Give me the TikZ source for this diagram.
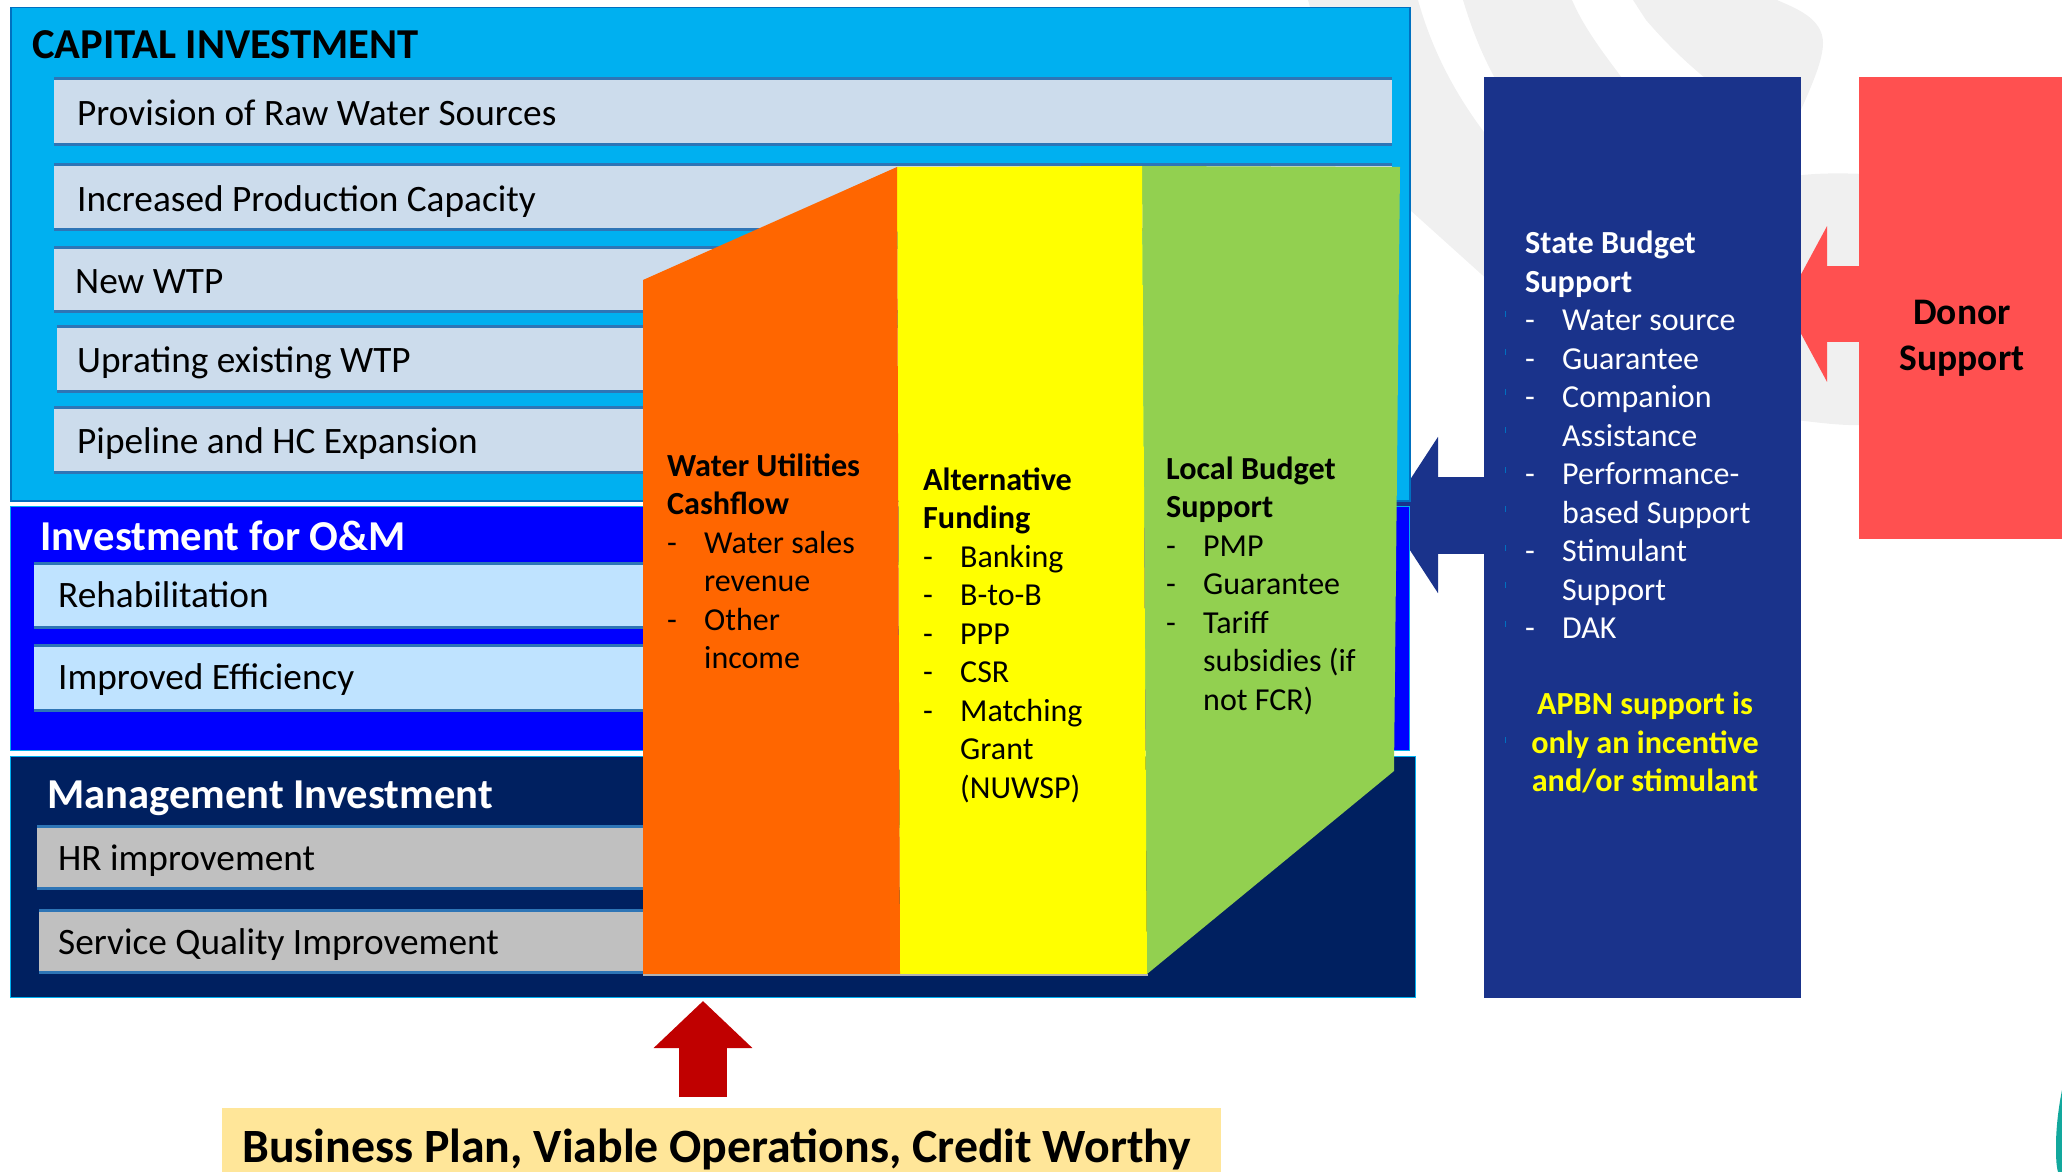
\documentclass[tikz,border=0pt]{standalone}
\usepackage{fontspec}
\setmainfont{Carlito}
\usetikzlibrary{arrows.meta,calc}
\definecolor{wmgrey}{HTML}{F0F0F0}
\definecolor{capblue}{HTML}{00B0F0}
\definecolor{capedge}{HTML}{0070C0}
\definecolor{rowpale}{HTML}{CCDCEC}
\definecolor{rowedge}{HTML}{2E75B6}
\definecolor{ompure}{HTML}{0000FF}
\definecolor{omrow}{HTML}{BFE3FF}
\definecolor{navy}{HTML}{002060}
\definecolor{greyrow}{HTML}{C0C0C0}
\definecolor{orangef}{HTML}{FF6600}
\definecolor{yellowf}{HTML}{FFFF00}
\definecolor{greenf}{HTML}{92D050}
\definecolor{statef}{HTML}{1A338B}
\definecolor{donorf}{HTML}{FF5050}
\definecolor{redarrow}{HTML}{C00000}
\definecolor{sandf}{HTML}{FFE699}
\definecolor{tealf}{HTML}{12A89D}
\newcommand{\itm}[1]{\makebox[37pt][l]{-}#1}
\newcommand{\cont}[1]{\hspace*{37pt}#1}
\newcommand{\bh}[1]{{\bfseries\fontsize{32.2}{38.5}\selectfont #1}}
\tikzset{
  panel/.style={anchor=north west,inner sep=0pt,draw=none},
  rowbox/.style={anchor=north west,inner sep=0pt,text height=27pt,text depth=0pt,align=flush left,text=black,
     font=\fontsize{37.3}{40}\selectfont},
  edgeline/.style={rowedge,line width=3pt},
  head/.style={anchor=base west,inner sep=0pt,font=\bfseries\fontsize{42.6}{46}\selectfont},
  body/.style={anchor=north west,inner sep=0pt,align=flush left,font=\fontsize{32}{38.5}\selectfont}
}
\begin{document}
\begin{tikzpicture}[x=1pt,y=-1pt]
\useasboundingbox (0,0) rectangle (2062,1172);
% watermark
\fill[wmgrey] (1308,0) -- (1418,0) .. controls (1432,50) and (1455,95) .. (1490,140) -- (1490,282) -- (1410,210) .. controls (1370,160) and (1330,80) .. (1308,0) -- cycle;
\fill[wmgrey] (1463,0) .. controls (1472,30) and (1482,55) .. (1497,82) -- (1625,82) .. controls (1605,55) and (1585,30) .. (1572,0) -- cycle;
\fill[wmgrey] (1633,0) -- (1646,20) .. controls (1665,42) and (1685,62) .. (1710,82) -- (1750,112) -- (1800,112) .. controls (1812,85) and (1823,60) .. (1823,43) .. controls (1823,18) and (1795,8) .. (1777,0) -- cycle;
\fill[wmgrey] (1795,176) .. controls (1815,173) and (1840,173) .. (1865,174) -- (1865,425) .. controls (1840,426) and (1815,422) .. (1795,420) -- cycle;
% teal corner
\fill[tealf] (2062,1090) .. controls (2058,1110) and (2056,1130) .. (2056,1145) .. controls (2056,1155) and (2056,1165) .. (2058,1172) -- (2062,1172) -- cycle;
% side boxes (named first so that arrows can start at them)
\coordinate (blueTip) at (1387,515);
\coordinate (donorTip) at (1785,304);
\coordinate (redTip) at (703,1001);
\path node[panel,minimum width=317pt,minimum height=921pt] (state) at (1484,77) {};
\path node[panel,minimum width=203pt,minimum height=462pt] (donor) at (1859,77) {};
\path node[panel,fill=sandf,minimum width=999pt,minimum height=64pt] (plan) at (222,1108) {};
\draw[donorf,line width=76pt,-{Triangle[length=42pt,width=154pt]}] (donor.west |- donorTip) -- (donorTip);
\draw[statef,line width=77pt,-{Triangle[length=51pt,width=154pt]}] (state.west |- blueTip) -- (blueTip);
\draw[redarrow,line width=48pt,-{Triangle[length=47pt,width=96pt]}] (redTip |- plan.north) ++(0,-11) -- (redTip);
\fill[statef] (state.north west) rectangle (state.south east);
\fill[donorf] (donor.north west) rectangle (donor.south east);
% left panels
\node[panel,fill=capblue,draw=capedge,line width=1.5pt,minimum width=1399pt,minimum height=493pt] (capital) at (10,7) {};
\node[panel,fill=ompure,draw=capblue,line width=1pt,minimum width=1399pt,minimum height=244pt] (om) at (10,506) {};
\node[panel,fill=navy,draw=capblue,line width=1pt,minimum width=1405pt,minimum height=241pt] (mgmt) at (10,756) {};
\node[head,text=black] (capT) at (32,59) {CAPITAL INVESTMENT};
\node[head,text=white] (omT) at (40,550) {Investment for O\&M};
\node[head,text=white] (mgT) at (47,808) {Management Investment};
% rows
\node[rowbox,fill=rowpale,minimum width=1338pt,minimum height=65pt,text width=1292pt] (r1) at (54,79) {Provision of Raw Water Sources};
\node[rowbox,fill=rowpale,minimum width=1338pt,minimum height=65pt,text width=1292pt,text height=30pt] (r2) at (54,164) {Increased Production Capacity};
\node[rowbox,fill=rowpale,minimum width=1000pt,minimum height=64pt,text width=958pt,text height=29pt] (r3) at (54,247) {New WTP};
\node[rowbox,fill=rowpale,minimum width=1000pt,minimum height=65pt,text width=960pt] (r4) at (57,326) {Uprating existing WTP};
\node[rowbox,fill=rowpale,minimum width=1000pt,minimum height=65pt,text width=954pt] (r5) at (54,407) {Pipeline and HC Expansion};
\node[rowbox,fill=omrow,minimum width=1000pt,minimum height=64pt,text width=952pt,text height=24pt] (o1) at (34,563) {Rehabilitation};
\node[rowbox,fill=omrow,minimum width=1000pt,minimum height=65pt,text width=952pt,text height=23pt] (o2) at (34,645) {Improved Efficiency};
\node[rowbox,fill=greyrow,minimum width=1000pt,minimum height=62pt,text width=958pt] (g1) at (37,826) {HR improvement};
\node[rowbox,fill=greyrow,minimum width=1000pt,minimum height=62pt,text width=962pt] (g2) at (39,910) {Service Quality Improvement};
\foreach \r in {r1,r2,r3,r4,r5,o1,o2,g1,g2}{
  \draw[edgeline] (\r.north west) -- (\r.north east);
  \draw[edgeline] (\r.south west) -- (\r.south east);
}
% funding columns
\fill[greenf] (1142,166) -- (1400,167) -- (1394,771) -- (1147,974) -- cycle;
\fill[yellowf] (897,167) -- (1142,166) -- (1147,974) -- (900,974) -- cycle;
\fill[orangef] (643,280) -- (897,167) -- (900,974) -- (643,974) -- cycle;
\draw[black!30,line width=1.5pt] (643,975) -- (1148,975);
% column texts
\node[body] (wu) at (667,453.5) {\bh{Water Utilities}\\\bh{Cashflow}\\\itm{Water sales}\\\cont{revenue}\\\itm{Other}\\\cont{income}};
\node[body] (af) at (923,467.5) {\bh{Alternative}\\\bh{Funding}\\\itm{Banking}\\\itm{B-to-B}\\\itm{PPP}\\\itm{CSR}\\\itm{Matching}\\\cont{Grant}\\\cont{(NUWSP)}};
\node[body] (lb) at (1166,456.5) {\bh{Local Budget}\\\bh{Support}\\\itm{PMP}\\\itm{Guarantee}\\\itm{Tariff}\\\cont{subsidies (if}\\\cont{not FCR)}};
\node[body,text=white] (sb) at (1525,231) {\bh{State Budget}\\\bh{Support}\\\itm{Water source}\\\itm{Guarantee}\\\itm{Companion}\\\cont{Assistance}\\\itm{Performance-}\\\cont{based Support}\\\itm{Stimulant}\\\cont{Support}\\\itm{DAK}};
\node[anchor=north,inner sep=0pt,align=center,text=yellowf,font=\bfseries\fontsize{32.2}{38.5}\selectfont] (apbn) at (1645,692) {APBN support is\\only an incentive\\and/or stimulant};
\node[anchor=north,inner sep=0pt,align=center,font=\bfseries\fontsize{37.5}{46}\selectfont] (dn) at (1962,300) {Donor\\Support};
\node[anchor=base west,inner sep=0pt,font=\bfseries\fontsize{47.8}{50}\selectfont] (pl) at (242,1162) {Business Plan, Viable Operations, Credit Worthy};
% clipped bullet remnants
\foreach \yy in {314,352,392,430,470,509,548,585,624,740}{
  \fill[capedge] (1504.5,\yy-3) rectangle (1505.5,\yy+3);
}
\end{tikzpicture}
\end{document}
